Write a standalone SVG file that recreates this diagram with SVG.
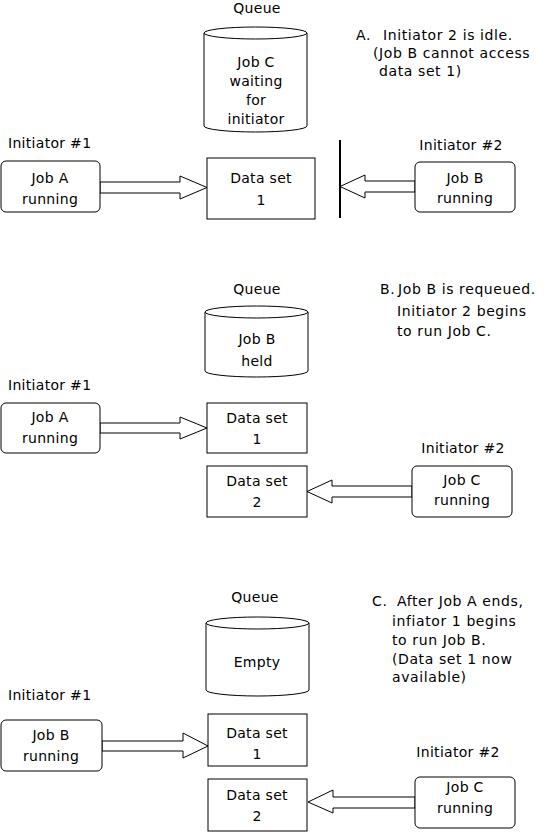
<svg xmlns="http://www.w3.org/2000/svg" width="547" height="832" viewBox="0 0 547 832">
<style>
text{font-family:"DejaVu Sans",sans-serif;font-size:14px;fill:#000;letter-spacing:0.3px}
.c{text-anchor:middle}
.n{letter-spacing:0.6px}
.box{fill:#fff;stroke:#000;stroke-width:1}
.arr{fill:#fff;stroke:#000;stroke-width:1;stroke-linejoin:miter}
.cyl{fill:#fff;stroke:#000;stroke-width:1}
</style>
<rect width="547" height="832" fill="#fff"/>

<g id="connectors">
<polygon class="arr" points="100,182 180,182 180,176 207,187.5 180,199 180,193 100,193"/>
<line x1="340" y1="140" x2="340" y2="218" stroke="#000" stroke-width="2"/>
<polygon class="arr" points="415,181 365,181 365,175 340,186.5 365,198 365,192 415,192"/>
<polygon class="arr" points="100,423 180,423 180,417 207,428 180,439 180,433 100,433"/>
<polygon class="arr" points="412,486 332,486 332,480 307,491.5 332,503 332,497 412,497"/>
<polygon class="arr" points="102,741 183,741 183,733 208,746 183,758 183,751 102,751"/>
<polygon class="arr" points="415,797 333,797 333,790 308,802 333,813 333,808 415,808"/>
</g>

<!-- Section A -->
<g id="queueA">
<text class="c" x="257" y="13">Queue</text>
<path class="cyl" d="M204,33 V126 A51.5,6 0 0 0 307,126 V33"/>
<ellipse class="cyl" cx="255.5" cy="33" rx="51.5" ry="6"/>
<text class="c" x="256" y="67">Job C</text>
<text class="c" x="256" y="86">waiting</text>
<text class="c" x="256" y="105">for</text>
<text class="c" x="256" y="124">initiator</text>
</g>
<g id="noteA">
<text class="n" x="356" y="40">A.<tspan x="383">Initiator 2 is idle.</tspan></text>
<text class="n" x="373" y="58">(Job B cannot access</text>
<text class="n" x="379" y="76">data set 1)</text>
</g>
<g id="init1A">
<text x="8" y="148">Initiator #1</text>
<rect class="box" x="1" y="161" width="99" height="51" rx="5"/>
<text class="c" x="50" y="183">Job A</text>
<text class="c" x="50" y="204">running</text>
</g>
<g id="ds1A">
<rect class="box" x="207" y="158" width="108" height="61"/>
<text class="c" x="261" y="183">Data set</text>
<text class="c" x="261" y="205">1</text>
</g>
<g id="init2A">
<text class="c" x="461" y="150">Initiator #2</text>
<rect class="box" x="415" y="162" width="100" height="50" rx="5"/>
<text class="c" x="465" y="183">Job B</text>
<text class="c" x="465" y="203">running</text>
</g>

<!-- Section B -->
<g id="queueB">
<text class="c" x="257" y="294">Queue</text>
<path class="cyl" d="M205,312 V371 A51.5,6 0 0 0 308,371 V312"/>
<ellipse class="cyl" cx="256.5" cy="312" rx="51.5" ry="6"/>
<text class="c" x="257" y="344">Job B</text>
<text class="c" x="257" y="366">held</text>
</g>
<g id="noteB">
<text class="n" x="380" y="294">B.<tspan x="398">Job B is requeued.</tspan></text>
<text class="n" x="397" y="316">Initiator 2 begins</text>
<text class="n" x="397" y="336">to run Job C.</text>
</g>
<g id="init1B">
<text x="8" y="390">Initiator #1</text>
<rect class="box" x="1" y="403" width="99" height="50" rx="5"/>
<text class="c" x="50" y="422">Job A</text>
<text class="c" x="50" y="443">running</text>
</g>
<g id="ds1B">
<rect class="box" x="207" y="403" width="100" height="50"/>
<text class="c" x="257" y="423">Data set</text>
<text class="c" x="257" y="444">1</text>
</g>
<g id="ds2B">
<rect class="box" x="207" y="466" width="100" height="51"/>
<text class="c" x="257" y="486">Data set</text>
<text class="c" x="257" y="507">2</text>
</g>
<g id="init2B">
<text class="c" x="463" y="453">Initiator #2</text>
<rect class="box" x="412" y="466" width="100" height="51" rx="5"/>
<text class="c" x="462" y="485">Job C</text>
<text class="c" x="462" y="505">running</text>
</g>

<!-- Section C -->
<g id="queueC">
<text class="c" x="255" y="602">Queue</text>
<path class="cyl" d="M206,623 V690 A51.5,6 0 0 0 309,690 V623"/>
<ellipse class="cyl" cx="257.5" cy="623" rx="51.5" ry="6"/>
<text class="c" x="257" y="667">Empty</text>
</g>
<g id="noteC">
<text class="n" x="372" y="606">C.<tspan x="397">After Job A ends,</tspan></text>
<text class="n" x="392" y="626">infiator 1 begins</text>
<text class="n" x="392" y="645">to run Job B.</text>
<text class="n" x="392" y="664">(Data set 1 now</text>
<text class="n" x="392" y="682">available)</text>
</g>
<g id="init1C">
<text x="8" y="700">Initiator #1</text>
<rect class="box" x="1" y="720" width="101" height="51" rx="5"/>
<text class="c" x="51" y="740">Job B</text>
<text class="c" x="51" y="761">running</text>
</g>
<g id="ds1C">
<rect class="box" x="208" y="714" width="99" height="52"/>
<text class="c" x="257" y="738">Data set</text>
<text class="c" x="257" y="759">1</text>
</g>
<g id="ds2C">
<rect class="box" x="208" y="779" width="99" height="52"/>
<text class="c" x="257" y="800">Data set</text>
<text class="c" x="257" y="821">2</text>
</g>
<g id="init2C">
<text class="c" x="458" y="757">Initiator #2</text>
<rect class="box" x="415" y="777" width="100" height="51" rx="5"/>
<text class="c" x="465" y="792">Job C</text>
<text class="c" x="465" y="813">running</text>
</g>
</svg>
